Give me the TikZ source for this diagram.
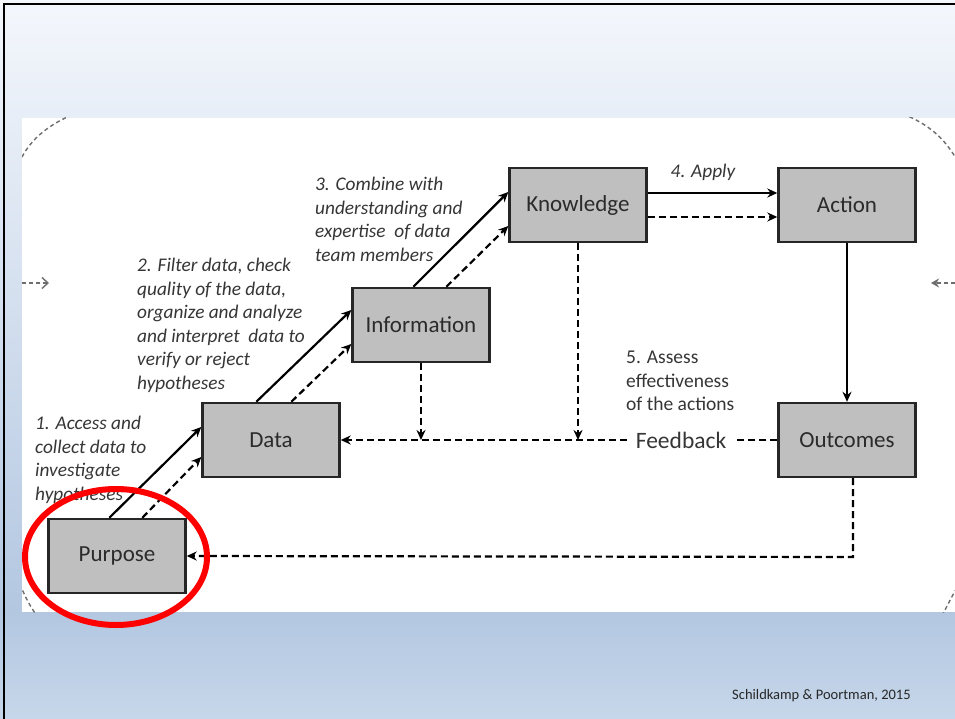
\documentclass[tikz,border=0pt]{standalone}
\usepackage{fontspec}
\setmainfont{Carlito}
\usetikzlibrary{arrows.meta,calc}
\definecolor{bgtop}{HTML}{F4F7FC}
\definecolor{bgmid}{HTML}{B3C7E1}
\definecolor{bgbot}{HTML}{C7D7EA}
\definecolor{boxgray}{HTML}{BFBFBF}
\definecolor{txt}{HTML}{363636}
\definecolor{arcgray}{HTML}{6E6E6E}
\tikzset{
  stage/.style={draw=black!85, line width=2.4pt, fill=boxgray, minimum width=137pt, minimum height=74pt,
    inner sep=0pt, font=\fontsize{23}{26}\selectfont, text=txt!80!black},
  lab/.style={inner sep=0pt, align=left, text=txt, font=\itshape\fontsize{19.3}{23.5}\selectfont},
  plainlab/.style={inner sep=0pt, align=left, text=txt, font=\fontsize{19.5}{23.3}\selectfont},
  conn/.style={line width=2.2pt, -{Stealth[length=10pt,width=9pt]}},
  dconn/.style={conn, dash pattern=on 7pt off 4pt},
  dline/.style={line width=2.2pt, dash pattern=on 7pt off 4pt},
  arcdash/.style={draw=arcgray, line width=1.4pt, dash pattern=on 4pt off 3pt}
}
\begin{document}
\begin{tikzpicture}[x=1pt,y=-1pt]
\useasboundingbox (0,0) rectangle (955,719);
% background
\shade[top color=bgtop, bottom color=bgmid] (0,0) rectangle (955,612);
\shade[top color=bgmid, bottom color=bgbot] (0,612) rectangle (955,719);
\fill[white] (22,118) rectangle (955,612);
% frame
\draw[black, line width=2.5pt] (4,719) -- (4,4) -- (955,4);
% dashed cycle corners and side arrows
\begin{scope}
\clip (22,118) rectangle (955,612);
\draw[arcdash] (22,157) .. controls (32,138) and (50,124) .. (74,114);
\draw[arcdash] (903,114) .. controls (928,124) and (945,138) .. (958,162);
\draw[arcdash] (20,584) .. controls (25,597) and (30,606) .. (37,616);
\draw[arcdash] (942,616) .. controls (947,606) and (952,596) .. (958,586);
\end{scope}
\coordinate (lin0) at (22,283);
\coordinate (lin1) at (49,283);
\coordinate (rin0) at (955,283);
\coordinate (rin1) at (931,283);
\draw[arcdash, -{Straight Barb[length=6pt,width=11pt]}] (lin0) -- (lin1);
\draw[arcdash, -{Stealth[length=8pt,width=9pt]}] (rin0) -- (rin1);
% labels
\node[lab, anchor=north west] (l1) at (35,416) {1. Access and\\collect data to\\investigate\\hypotheses};
\node[lab, anchor=north west] (l2) at (137,258) {2. Filter data, check\\quality of the data,\\organize and analyze\\and interpret\ \ data to\\verify or reject\\hypotheses};
\node[lab, anchor=north west] (l3) at (315,177) {3. Combine with\\understanding and\\expertise\ \ of data\\team members};
\node[lab] (l4) at (703,172) {4. Apply};
\node[plainlab, anchor=north west] (l5) at (626,351) {5. Assess\\effectiveness\\of the actions};
% boxes
\node[stage] (purpose) at (117,556) {Purpose};
\node[stage] (data) at (271,440) {Data};
\node[stage] (info) at (421,325) {Information};
\node[stage] (know) at (578,205) {Knowledge};
\node[stage] (action) at (847,205) {Action};
\node[stage] (outc) at (847,440) {Outcomes};
\node[inner sep=0pt, text=txt, font=\fontsize{23.5}{26}\selectfont] (fb) at (681,440) {Feedback};
% forward arrows
\draw[conn] ([xshift=62pt]purpose.north west) -- ([yshift=13pt]data.west);
\draw[dconn] ([xshift=95pt]purpose.north west) -- ([yshift=-17pt]data.west);
\draw[conn] ([xshift=55pt]data.north west) -- ([yshift=15pt]info.west);
\draw[dconn] ([xshift=90pt]data.north west) -- ([yshift=-19pt]info.west);
\draw[conn] ([xshift=62pt]info.north west) -- ([yshift=13pt]know.west);
\draw[dconn] ([xshift=95pt]info.north west) -- ([yshift=-21pt]know.west);
\draw[conn] ([yshift=12pt]know.east) -- ([yshift=12pt]action.west);
\draw[dconn] ([yshift=-12pt]know.east) -- ([yshift=-12pt]action.west);
\draw[conn] (action.south) -- (outc.north);
% feedback
\coordinate (fbi) at (421,440);
\coordinate (fbk) at (578,440);
\coordinate (oc) at (853,557);
\draw[dline] (outc.west) -- ([xshift=9pt]fb.east);
\draw[dconn] ([xshift=-9pt]fb.west) -- (data.east);
\draw[dconn] (info.south) -- (fbi);
\draw[dconn] (know.south) -- (fbk);
\draw[dconn] ([xshift=6pt]outc.south) -- (oc) -- (purpose.east);
% citation
\node[inner sep=0pt, text=black!85, font=\fontsize{14.5}{16}\selectfont, anchor=west] (cite) at (732,696) {Schildkamp \& Poortman, 2015};
% red ellipse
\draw[red, line width=6pt] (116,557) ellipse [x radius=91, y radius=68];
\end{tikzpicture}
\end{document}
